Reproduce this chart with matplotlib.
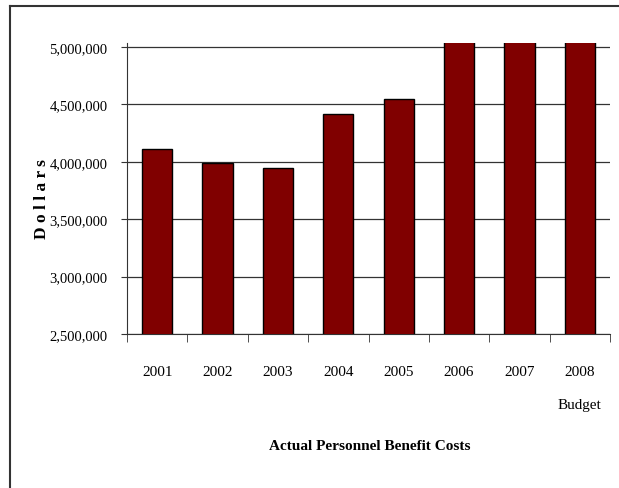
import matplotlib
matplotlib.use("Agg")
import matplotlib.pyplot as plt
from matplotlib.lines import Line2D
import numpy as np

years = ["2001", "2002", "2003", "2004", "2005", "2006", "2007", "2008\nBudget"]
costs = [4110000, 3988000, 3950000, 4414000, 4551000, 5200000, 5350000, 5500000]
yticks = [2500000, 3000000, 3500000, 4000000, 4500000, 5000000]

plt.rcParams['font.family'] = ['Liberation Serif', 'DejaVu Serif']

fig = plt.figure(figsize=(6.19, 4.89), dpi=100)
ax = fig.add_axes([127/619, 1-335/489, (610-127)/619, (335-44)/489])

x = np.arange(len(years))
ax.bar(x, costs, width=0.5, color="#800000", edgecolor="black", linewidth=1.0, zorder=3)

ax.set_xlim(-0.5, len(years)-0.5)
ax.set_ylim(2500000, 5035000)
ax.set_yticks(yticks)
ax.set_yticklabels([f"{v:,}" for v in yticks], fontsize=10.5)
ax.yaxis.grid(True, color="#333333", linewidth=0.9, zorder=0)
ax.set_axisbelow(True)

ax.set_xticks(x)
ax.set_xticklabels(years, fontsize=11, linespacing=3.0, va='top')
ax.set_xticks(np.arange(-0.5, len(years), 1.0), minor=True)
ax.tick_params(axis='x', which='major', length=0, pad=22)
ax.tick_params(axis='x', which='minor', length=6, direction='out', color='#333333')
ax.tick_params(axis='y', length=4, direction='out', pad=10, color='#333333')

for s in ['top', 'right']:
    ax.spines[s].set_visible(False)
ax.spines['left'].set_color('#333333')
ax.spines['bottom'].set_color('#333333')

fig.text(370/619, 1-447/489, "Actual Personnel Benefit Costs", ha='center', va='center',
         fontsize=11, fontweight='bold')
fig.text(42/619, 1-199/489, "D o l l a r s", ha='center', va='center', rotation=90,
         fontsize=12.5, fontweight='bold')

# outer border
fig.add_artist(Line2D([10/619, 1.0], [1-7/489, 1-7/489], transform=fig.transFigure,
                      color='#333333', linewidth=1.5))
fig.add_artist(Line2D([10/619, 10/619], [1-7/489, 0.0], transform=fig.transFigure,
                      color='#333333', linewidth=1.5))

fig.savefig("out.png", dpi=100)
